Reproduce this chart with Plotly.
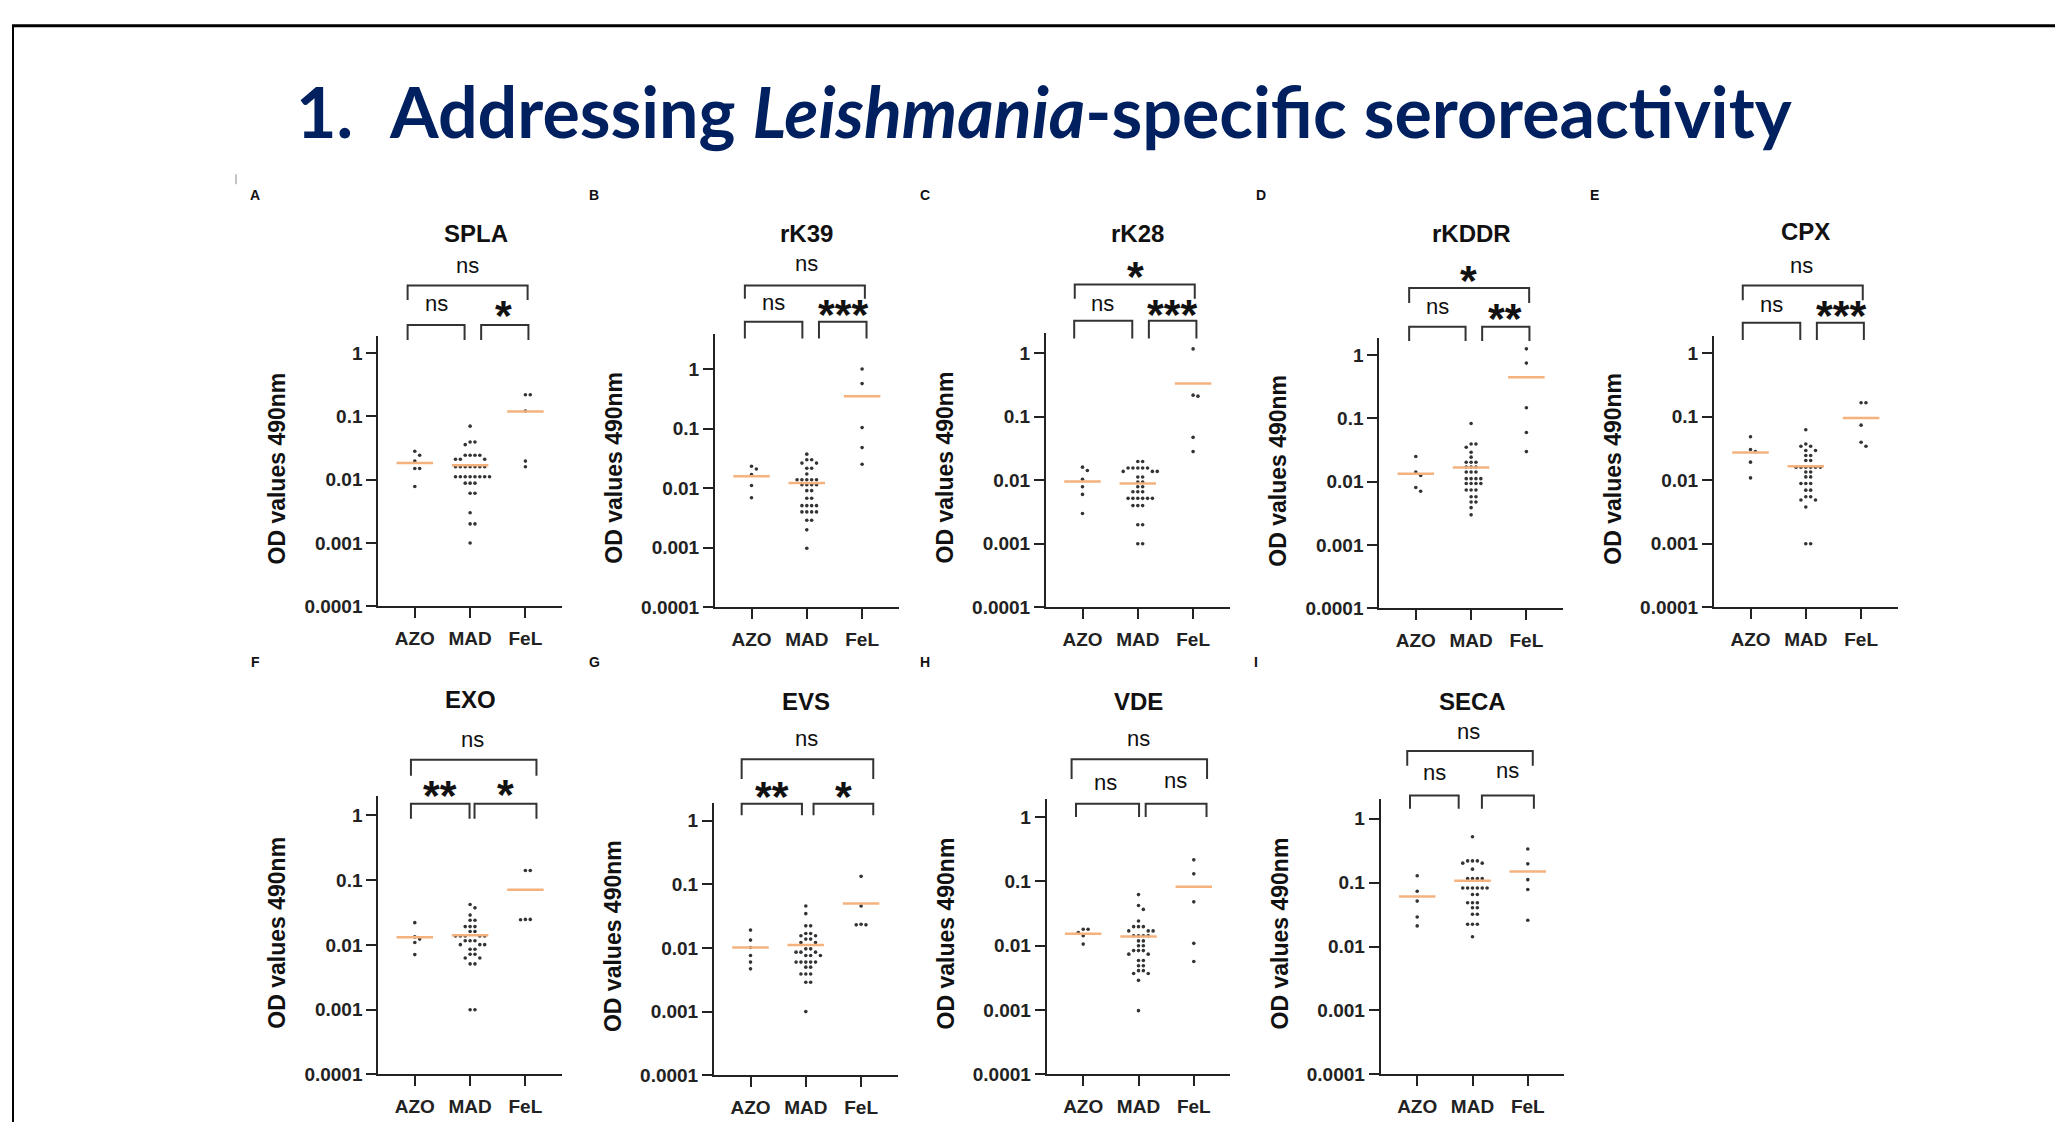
import numpy as np
import plotly.graph_objects as go

# ---------------- data ----------------
groups = ["AZO", "MAD", "FeL"]
antigens = ["SPLA", "rK39", "rK28", "rKDDR", "CPX", "EXO", "EVS", "VDE", "SECA"]
panel_letters = ["A", "B", "C", "D", "E", "F", "G", "H", "I"]
tick_vals = [0.0001, 0.001, 0.01, 0.1, 1]
tick_text = ["0.0001", "0.001", "0.01", "0.1", "1"]
y_title = "OD values 490nm"

spla_azo = [0.028, 0.0243, 0.0196, 0.015, 0.015, 0.0078]
spla_mad = [0.0698, 0.0392, 0.0392, 0.0356, 0.0243, 0.0243, 0.0243, 0.0243, 0.021, 0.021, 0.021,
            0.016, 0.016, 0.016, 0.016, 0.016, 0.016, 0.016, 0.0111, 0.0111, 0.0111, 0.0111,
            0.0111, 0.0111, 0.0111, 0.0111, 0.0088, 0.0088, 0.0088, 0.0061, 0.0061, 0.003,
            0.002, 0.002, 0.001]
spla_fel = [0.218, 0.218, 0.121, 0.0196, 0.016]

rk39_azo = [0.0233, 0.021, 0.0169, 0.0111, 0.0069]
rk39_mad = [0.0373, 0.030, 0.030, 0.0264, 0.0264, 0.0216, 0.0216, 0.0173, 0.0139, 0.0139, 0.0139,
            0.0139, 0.0139, 0.0114, 0.0114, 0.0114, 0.0114, 0.0091, 0.0091, 0.0068, 0.0068,
            0.0051, 0.0051, 0.0051, 0.0051, 0.004, 0.004, 0.004, 0.004, 0.0029, 0.0029, 0.002,
            0.00098]
rk39_fel = [1.0, 0.57, 0.104, 0.048, 0.0253]

rk28_azo = [0.0161, 0.0143, 0.0104, 0.0079, 0.006, 0.003]
rk28_mad = [0.0198, 0.0198, 0.0156, 0.0156, 0.0156, 0.0156, 0.0156, 0.0138, 0.0138, 0.0138,
            0.0113, 0.0113, 0.0094, 0.0094, 0.0079, 0.0079, 0.0066, 0.0066, 0.0066, 0.0052,
            0.0052, 0.0052, 0.0052, 0.0052, 0.0052, 0.004, 0.004, 0.004, 0.002, 0.002, 0.001,
            0.001]
rk28_fel = [1.17, 0.219, 0.211, 0.0474, 0.0283]

rkddr_azo = [0.0251, 0.0143, 0.0126, 0.0081, 0.0071]
rkddr_mad = [0.0832, 0.0396, 0.0396, 0.0351, 0.0293, 0.0245, 0.0204, 0.0204, 0.0204, 0.0171,
             0.0171, 0.0171, 0.0143, 0.0143, 0.0143, 0.0112, 0.0112, 0.0112, 0.0112, 0.0094,
             0.0094, 0.0094, 0.0094, 0.0074, 0.0074, 0.0074, 0.0058, 0.0058, 0.0048, 0.0048,
             0.0039, 0.003]
rkddr_fel = [1.26, 0.75, 0.148, 0.060, 0.030]

cpx_azo = [0.0485, 0.0304, 0.0283, 0.0193, 0.0109]
cpx_mad = [0.0623, 0.0373, 0.0343, 0.0343, 0.0294, 0.0294, 0.0245, 0.0245, 0.0205, 0.0205,
           0.0161, 0.0161, 0.0161, 0.0161, 0.0161, 0.0161, 0.0135, 0.0135, 0.0113, 0.0113,
           0.0089, 0.0089, 0.0089, 0.007, 0.007, 0.0055, 0.0055, 0.0049, 0.0049, 0.0038,
           0.001, 0.001]
cpx_fel = [0.166, 0.166, 0.0738, 0.0396, 0.0343]

exo_azo = [0.0221, 0.0133, 0.0123, 0.0109, 0.0071]
exo_mad = [0.0421, 0.0374, 0.0289, 0.024, 0.024, 0.0192, 0.0192, 0.0192, 0.0161, 0.0161,
           0.0138, 0.0138, 0.0138, 0.0138, 0.0138, 0.0116, 0.0116, 0.0116, 0.0101, 0.0101,
           0.0101, 0.0086, 0.0086, 0.0072, 0.0072, 0.0063, 0.0063, 0.0051, 0.0051, 0.001,
           0.001]
exo_fel = [0.141, 0.141, 0.0248, 0.0248, 0.0245]

evs_azo = [0.0191, 0.0133, 0.0102, 0.0076, 0.006, 0.0047]
evs_mad = [0.0457, 0.0347, 0.0223, 0.0223, 0.0169, 0.0169, 0.0156, 0.0156, 0.0138, 0.0138,
           0.0122, 0.0122, 0.0097, 0.0097, 0.0086, 0.0086, 0.0086, 0.0076, 0.0076, 0.0076,
           0.006, 0.006, 0.006, 0.006, 0.006, 0.005, 0.005, 0.0039, 0.0039, 0.0039, 0.0029,
           0.0029, 0.001]
evs_fel = [0.134, 0.0457, 0.0236, 0.0231, 0.0231]

vde_azo = [0.018, 0.018, 0.016, 0.0143, 0.0106]
vde_mad = [0.0623, 0.0422, 0.0367, 0.0243, 0.0198, 0.0198, 0.0198, 0.017, 0.017, 0.017, 0.0143,
           0.0143, 0.0143, 0.0143, 0.0119, 0.0119, 0.01, 0.01, 0.0084, 0.0084, 0.0084, 0.0074,
           0.0074, 0.0059, 0.0059, 0.0049, 0.0049, 0.0041, 0.0041, 0.0037, 0.0037, 0.0029,
           0.00098]
vde_fel = [0.216, 0.131, 0.0481, 0.0109, 0.0057]

seca_azo = [0.128, 0.0732, 0.0513, 0.029, 0.021]
seca_mad = [0.52, 0.218, 0.218, 0.218, 0.201, 0.201, 0.162, 0.115, 0.115, 0.115, 0.115, 0.0824,
            0.0824, 0.0824, 0.0824, 0.0824, 0.0824, 0.065, 0.065, 0.0483, 0.0483, 0.0483,
            0.0404, 0.0404, 0.0319, 0.0319, 0.0223, 0.0223, 0.0223, 0.0142]
seca_fel = [0.335, 0.196, 0.111, 0.0777, 0.0257]

panel_data = [
    [spla_azo, spla_mad, spla_fel],
    [rk39_azo, rk39_mad, rk39_fel],
    [rk28_azo, rk28_mad, rk28_fel],
    [rkddr_azo, rkddr_mad, rkddr_fel],
    [cpx_azo, cpx_mad, cpx_fel],
    [exo_azo, exo_mad, exo_fel],
    [evs_azo, evs_mad, evs_fel],
    [vde_azo, vde_mad, vde_fel],
    [seca_azo, seca_mad, seca_fel],
]

# significance labels: [AZO-FeL (top), AZO-MAD, MAD-FeL]
sig_labels = [
    ["ns", "ns", "*"],
    ["ns", "ns", "***"],
    ["*", "ns", "***"],
    ["*", "ns", "**"],
    ["ns", "ns", "***"],
    ["ns", "**", "*"],
    ["ns", "**", "*"],
    ["ns", "ns", "ns"],
    ["ns", "ns", "ns"],
]

title_num = "1."
title_text = "Addressing <i>Leishmania</i>-specific seroreactivity"

# ---------------- layout (pixel geometry of the page) ----------------
W, H = 2055, 1133
XR = (-0.66, 2.66)
PX_UNIT = 55.3
# left px, top px, bottom px, log10 top of range
geo = [
    (378.3, 339.3, 612.3, 0.266),
    (715.0, 337.3, 613.3, 0.588),
    (1046.0, 336.7, 613.3, 0.312),
    (1379.3, 341.7, 614.3, 0.266),
    (1714.0, 339.3, 613.3, 0.271),
    (378.3, 804.0, 1085.0, 0.297),
    (714.0, 810.7, 1085.7, 0.283),
    (1046.7, 806.7, 1085.0, 0.282),
    (1380.7, 806.7, 1085.0, 0.308),
]
# brackets: (x0, x1) in category units for top / left / right
br_x = [
    [(-0.13, 2.04), (-0.13, 0.90), (1.20, 2.055)],
    [(-0.12, 2.05), (-0.12, 0.92), (1.22, 2.08)],
    [(-0.14, 2.03), (-0.15, 0.90), (1.20, 2.06)],
    [(-0.12, 2.05), (-0.12, 0.90), (1.20, 2.055)],
    [(-0.14, 2.03), (-0.14, 0.90), (1.20, 2.05)],
    [(-0.07, 2.20), (-0.07, 0.99), (1.08, 2.20)],
    [(-0.16, 2.22), (-0.16, 0.93), (1.14, 2.22)],
    [(-0.21, 2.24), (-0.13, 1.01), (1.13, 2.23)],
    [(-0.18, 2.09), (-0.13, 0.75), (1.17, 2.11)],
]
br_y = [  # (top h, top drop, low h, low drop) in px
    (288.3, 303.0, 328.3, 343.3),
    (288.3, 301.7, 325.0, 341.7),
    (287.3, 301.7, 324.0, 341.7),
    (290.7, 306.0, 330.0, 344.3),
    (288.3, 303.3, 326.0, 343.3),
    (767.3, 783.3, 811.7, 826.7),
    (766.7, 786.7, 811.7, 823.3),
    (766.7, 786.7, 811.7, 825.0),
    (758.3, 773.3, 803.3, 816.7),
]
lab_x = [
    (0.95, 0.40, 1.60), (1.00, 0.39, 1.66), (0.95, 0.37, 1.62), (0.95, 0.40, 1.62),
    (0.93, 0.38, 1.63), (1.04, 0.45, 1.64), (1.01, 0.39, 1.68), (1.00, 0.40, 1.67),
    (0.93, 0.32, 1.64),
]
lab_y = [
    (268.0, 306.7, 308.0), (266.0, 305.0, 306.7), (268.3, 306.0, 306.7), (272.7, 309.3, 310.7),
    (268.3, 307.7, 308.3), (746.7, 792.7, 791.7), (746.0, 793.3, 793.3), (746.0, 790.0, 788.3),
    (738.3, 780.0, 778.3),
]
title_y = [236, 236, 236, 236, 234, 706, 708, 708, 708]
title_x = [1.1, 1.0, 1.0, 1.0, 1.0, 1.0, 1.0, 1.0, 1.0]
letter_pos = [(255, 197), (594, 197), (925, 197), (1261, 197), (1594, 197),
              (255, 668), (594, 668), (925, 668), (1256, 668)]

INK = "#222222"
DOT = "#333333"
MEAN_C = "#F5B27C"
NAVY = "#002060"
FONT = "Liberation Sans, Arial, sans-serif"


def px(x):
    return x / W


def py(y):
    return 1 - y / H


def swarm(vals, px_per_dec, step=0.088, dmin=4.6):
    vals = np.asarray(vals, dtype=float)
    order = np.argsort(-vals, kind="stable")
    placed = []
    offs = np.zeros(len(vals))
    cands = [0]
    for j in range(1, 40):
        cands += [j, -j]
    for i in order:
        yy = -np.log10(vals[i]) * px_per_dec
        for c in cands:
            xo = c * step * PX_UNIT
            if all((xo - a) ** 2 + (yy - b) ** 2 >= dmin * dmin for a, b in placed):
                break
        placed.append((xo, yy))
        offs[i] = c * step
    return offs


fig = go.Figure()
layout = {}
annotations = []
shapes = []

for k in range(9):
    sfx = "" if k == 0 else str(k + 1)
    xa, ya = "x" + sfx, "y" + sfx
    left, top, bottom, ltop = geo[k]
    width = (XR[1] - XR[0]) * PX_UNIT
    px_per_dec = (bottom - top) / (ltop + 4)

    layout["xaxis" + sfx] = dict(
        domain=[px(left), px(left + width)], anchor=ya, range=list(XR),
        tickvals=[0, 1, 2], ticktext=groups, showline=True, linewidth=2, linecolor=INK,
        ticks="outside", ticklen=10, tickwidth=2, tickcolor=INK, showgrid=False,
        zeroline=False, fixedrange=True, ticklabelstandoff=4,
        tickfont=dict(family=FONT, size=19, color=INK, weight="bold"),
    )
    layout["yaxis" + sfx] = dict(
        domain=[py(bottom), py(top)], anchor=xa, type="log", range=[-4, ltop],
        tickvals=tick_vals, ticktext=tick_text, showline=True, linewidth=2, linecolor=INK,
        ticks="outside", ticklen=10, tickwidth=2, tickcolor=INK, showgrid=False,
        zeroline=False, fixedrange=True,
        tickfont=dict(family=FONT, size=19, color=INK, weight="bold"),
    )

    for g, vals in enumerate(panel_data[k]):
        offs = swarm(vals, px_per_dec)
        fig.add_trace(go.Scatter(
            x=g + offs, y=vals, mode="markers", xaxis=xa, yaxis=ya,
            marker=dict(size=3.6, color=DOT), showlegend=False, hoverinfo="y",
        ))
        m = float(np.mean(vals))
        fig.add_trace(go.Scatter(
            x=[g - 0.33, g + 0.33], y=[m, m], mode="lines", xaxis=xa, yaxis=ya,
            line=dict(color=MEAN_C, width=2.5), showlegend=False, hoverinfo="skip",
        ))

    # panel title
    annotations.append(dict(
        text="<b>%s</b>" % antigens[k], x=title_x[k], xref=xa, y=py(title_y[k]), yref="paper",
        showarrow=False, xanchor="center", yanchor="middle",
        font=dict(family=FONT, size=24, color="#111111"),
    ))
    # panel letter
    lx, ly = letter_pos[k]
    annotations.append(dict(
        text="<b>%s</b>" % panel_letters[k], x=px(lx), y=py(ly), xref="paper", yref="paper",
        showarrow=False, xanchor="center", yanchor="middle",
        font=dict(family=FONT, size=14, color="#111111"),
    ))
    # y-axis title
    annotations.append(dict(
        text="<b>%s</b>" % y_title, x=px(left - 101), y=py((top + bottom) / 2 - 3),
        xref="paper", yref="paper", textangle=-90, showarrow=False,
        xanchor="center", yanchor="middle",
        font=dict(family=FONT, size=23, color="#111111"),
    ))
    # brackets
    th, td, lh, ld = br_y[k]
    for j, (x0, x1) in enumerate(br_x[k]):
        hy, dy = (th, td) if j == 0 else (lh, ld)
        shapes.append(dict(
            type="path", xref=xa, yref="paper",
            path="M %f,%f L %f,%f L %f,%f L %f,%f" % (x0, py(dy), x0, py(hy), x1, py(hy), x1, py(dy)),
            line=dict(color="#333333", width=2),
        ))
        lbl = sig_labels[k][j]
        is_star = lbl.startswith("*")
        annotations.append(dict(
            text=("<b>%s</b>" % lbl) if is_star else lbl,
            x=lab_x[k][j], xref=xa, y=py(lab_y[k][j]), yref="paper",
            showarrow=False, xanchor="center", yanchor="middle",
            yshift=-10 if is_star else 0,
            font=dict(family=FONT, size=43 if is_star else 22, color="#111111"),
        ))

# page title
annotations.append(dict(
    text="<b>%s</b>" % title_num, x=px(294), y=py(112), xref="paper", yref="paper",
    showarrow=False, xanchor="left", yanchor="middle",
    font=dict(family="Lato, Roboto, sans-serif", size=70, color=NAVY),
))
annotations.append(dict(
    text="<b>%s</b>" % title_text, x=px(387), y=py(112), xref="paper", yref="paper",
    showarrow=False, xanchor="left", yanchor="middle",
    font=dict(family="Lato, Roboto, sans-serif", size=70, color=NAVY),
))

# slide frame
shapes.append(dict(type="line", xref="paper", yref="paper", x0=px(12), x1=1.0,
                   y0=py(26), y1=py(26), line=dict(color="#000000", width=3)))
shapes.append(dict(type="line", xref="paper", yref="paper", x0=px(13), x1=px(13),
                   y0=py(26), y1=0, line=dict(color="#000000", width=2)))
shapes.append(dict(type="line", xref="paper", yref="paper", x0=px(236), x1=px(236),
                   y0=py(176), y1=py(186), line=dict(color="#888888", width=1)))

fig.update_layout(
    width=W, height=H, margin=dict(l=0, r=0, t=0, b=0),
    paper_bgcolor="white", plot_bgcolor="white",
    showlegend=False, annotations=annotations, shapes=shapes, **layout,
)

fig.write_html(
    "out.html",
    config={"displayModeBar": False},
    post_script="document.body.style.margin='0px';document.body.style.overflow='hidden';",
)
